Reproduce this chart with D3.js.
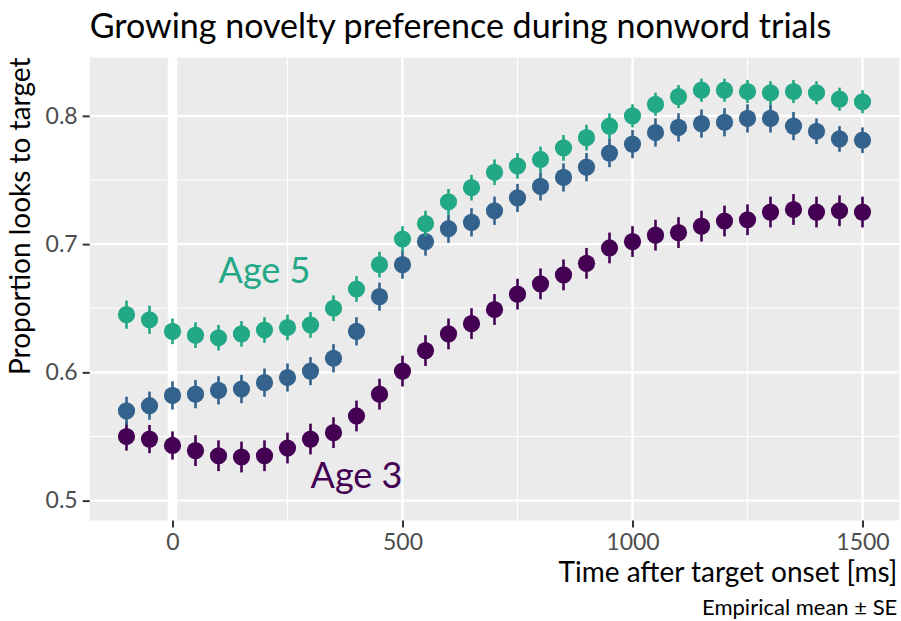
<!DOCTYPE html>
<html>
<head>
<meta charset="utf-8">
<script src="https://cdn.jsdelivr.net/npm/d3@7"></script>
<style>
  html, body { margin: 0; padding: 0; background: #ffffff; }
  svg { display: block; font-family: Lato, "Noto Sans", sans-serif; }
</style>
</head>
<body>
<svg id="chart" width="901" height="621"></svg>
<script>
// Time bins (ms after target onset)
const times = [-100, -50, 0, 50, 100, 150, 200, 250, 300, 350, 400, 450, 500, 550,
  600, 650, 700, 750, 800, 850, 900, 950, 1000, 1050, 1100, 1150, 1200, 1250,
  1300, 1350, 1400, 1450, 1500];

// Mean proportion of looks to target per age group
const age5 = [0.645, 0.641, 0.632, 0.629, 0.627, 0.630, 0.633, 0.635, 0.637, 0.650,
  0.665, 0.684, 0.704, 0.716, 0.733, 0.744, 0.756, 0.761, 0.766, 0.775, 0.783,
  0.792, 0.800, 0.809, 0.815, 0.820, 0.820, 0.819, 0.818, 0.819, 0.818, 0.813, 0.811];
const age4 = [0.570, 0.574, 0.582, 0.583, 0.586, 0.587, 0.592, 0.596, 0.601, 0.611,
  0.632, 0.659, 0.684, 0.702, 0.712, 0.717, 0.726, 0.736, 0.745, 0.752, 0.760,
  0.771, 0.778, 0.787, 0.791, 0.794, 0.795, 0.798, 0.798, 0.792, 0.788, 0.782, 0.781];
const age3 = [0.550, 0.548, 0.543, 0.539, 0.535, 0.534, 0.535, 0.541, 0.548, 0.553,
  0.566, 0.583, 0.601, 0.617, 0.630, 0.638, 0.649, 0.661, 0.669, 0.676, 0.685,
  0.697, 0.702, 0.707, 0.709, 0.714, 0.718, 0.719, 0.725, 0.727, 0.725, 0.726, 0.725];

// Standard errors per bin
const se5 = [0.011, 0.011, 0.010, 0.010, 0.010, 0.010, 0.010, 0.010, 0.010, 0.010,
  0.010, 0.010, 0.010, 0.010, 0.010, 0.010, 0.010, 0.010, 0.010, 0.010, 0.010,
  0.010, 0.009, 0.009, 0.009, 0.009, 0.009, 0.009, 0.009, 0.009, 0.009, 0.009, 0.009];
const se4 = [0.011, 0.011, 0.011, 0.011, 0.011, 0.011, 0.011, 0.011, 0.011, 0.011,
  0.011, 0.011, 0.011, 0.011, 0.011, 0.011, 0.011, 0.011, 0.011, 0.011, 0.011,
  0.011, 0.011, 0.011, 0.011, 0.011, 0.011, 0.011, 0.011, 0.011, 0.010, 0.010, 0.010];
const se3 = [0.011, 0.011, 0.011, 0.012, 0.012, 0.012, 0.012, 0.012, 0.012, 0.012,
  0.012, 0.012, 0.012, 0.012, 0.012, 0.012, 0.012, 0.012, 0.012, 0.012, 0.012,
  0.012, 0.012, 0.012, 0.012, 0.012, 0.012, 0.012, 0.012, 0.012, 0.012, 0.012, 0.012];

const groupNames = ["Age 3", "Age 4", "Age 5"];
const groupColors = ["#440154", "#33638D", "#22A884"];
const xTicks = [0, 500, 1000, 1500];
const xMinor = [250, 750, 1250];
const yTicks = [0.5, 0.6, 0.7, 0.8];
const yMinor = [0.55, 0.65, 0.75];

// Direct labels: [group, time, proportion]
const labels = [["Age 5", 200, 0.68], ["Age 3", 400, 0.52]];

const series = [
  { name: "Age 3", means: age3, se: se3 },
  { name: "Age 4", means: age4, se: se4 },
  { name: "Age 5", means: age5, se: se5 }
];

const svg = d3.select("#chart");
const panel = { left: 89.7, right: 899.3, top: 57.5, bottom: 520.5 };

const x = d3.scaleLinear().domain([-180, 1580]).range([panel.left, panel.right]);
const y = d3.scaleLinear().domain([0.4845, 0.8455]).range([panel.bottom, panel.top]);
const color = d3.scaleOrdinal().domain(groupNames).range(groupColors);

// Panel background
svg.append("rect")
  .attr("x", panel.left).attr("y", panel.top)
  .attr("width", panel.right - panel.left).attr("height", panel.bottom - panel.top)
  .attr("fill", "#EBEBEB");

const grid = svg.append("g");
grid.selectAll(".ymin").data(yMinor).join("line")
  .attr("x1", panel.left).attr("x2", panel.right)
  .attr("y1", d => y(d)).attr("y2", d => y(d))
  .attr("stroke", "#fff").attr("stroke-width", 1.2);
grid.selectAll(".xmin").data(xMinor).join("line")
  .attr("y1", panel.top).attr("y2", panel.bottom)
  .attr("x1", d => x(d)).attr("x2", d => x(d))
  .attr("stroke", "#fff").attr("stroke-width", 1.2);
grid.selectAll(".ymaj").data(yTicks).join("line")
  .attr("x1", panel.left).attr("x2", panel.right)
  .attr("y1", d => y(d)).attr("y2", d => y(d))
  .attr("stroke", "#fff").attr("stroke-width", 2.4);
grid.selectAll(".xmaj").data(xTicks).join("line")
  .attr("y1", panel.top).attr("y2", panel.bottom)
  .attr("x1", d => x(d)).attr("x2", d => x(d))
  .attr("stroke", "#fff").attr("stroke-width", 2.4);

// Target onset marker
svg.append("line")
  .attr("x1", x(0)).attr("x2", x(0))
  .attr("y1", panel.top).attr("y2", panel.bottom)
  .attr("stroke", "#fff").attr("stroke-width", 9.5);

// Axes
const xAxis = svg.append("g")
  .attr("transform", `translate(0,${panel.bottom})`)
  .call(d3.axisBottom(x).tickValues(xTicks).tickSize(7).tickPadding(6).tickFormat(d3.format("d")));
const yAxis = svg.append("g")
  .attr("transform", `translate(${panel.left},0)`)
  .call(d3.axisLeft(y).tickValues(yTicks).tickSize(7).tickPadding(5).tickFormat(d3.format(".1f")));
[xAxis, yAxis].forEach(g => {
  g.select(".domain").remove();
  g.selectAll(".tick line").attr("stroke", "#333333").attr("stroke-width", 2);
  g.selectAll(".tick text").attr("fill", "#4D4D4D")
    .style("font-family", "Lato").style("font-size", "23px");
});

// Point ranges
series.forEach(s => {
  const g = svg.append("g");
  const pts = times.map((t, i) => ({ t, m: s.means[i], e: s.se[i] }));
  g.selectAll("line").data(pts).join("line")
    .attr("x1", d => x(d.t)).attr("x2", d => x(d.t))
    .attr("y1", d => y(d.m - d.e)).attr("y2", d => y(d.m + d.e))
    .attr("stroke", color(s.name)).attr("stroke-width", 2.6);
  g.selectAll("circle").data(pts).join("circle")
    .attr("cx", d => x(d.t)).attr("cy", d => y(d.m))
    .attr("r", 8.6).attr("fill", color(s.name));
});

// Group labels
svg.selectAll(".grp").data(labels).join("text")
  .attr("x", d => x(d[1])).attr("y", d => y(d[2]))
  .attr("dy", "0.36em")
  .attr("text-anchor", "middle")
  .attr("fill", d => color(d[0]))
  .style("font-size", "36px")
  .text(d => d[0]);

// Titles
svg.append("text")
  .attr("x", panel.left).attr("y", 38)
  .style("font-size", "34px").attr("fill", "#000")
  .text("Growing novelty preference during nonword trials");

svg.append("text")
  .attr("x", panel.right - 2).attr("y", 582)
  .attr("text-anchor", "end")
  .style("font-size", "28px").attr("fill", "#000")
  .text("Time after target onset [ms]");

svg.append("text")
  .attr("transform", `translate(30,${panel.top}) rotate(-90)`)
  .attr("text-anchor", "end")
  .style("font-size", "28px").attr("fill", "#000")
  .text("Proportion looks to target");

svg.append("text")
  .attr("x", panel.right - 2).attr("y", 615)
  .attr("text-anchor", "end")
  .style("font-size", "22px").attr("fill", "#000")
  .text("Empirical mean ± SE");
</script>
</body>
</html>
